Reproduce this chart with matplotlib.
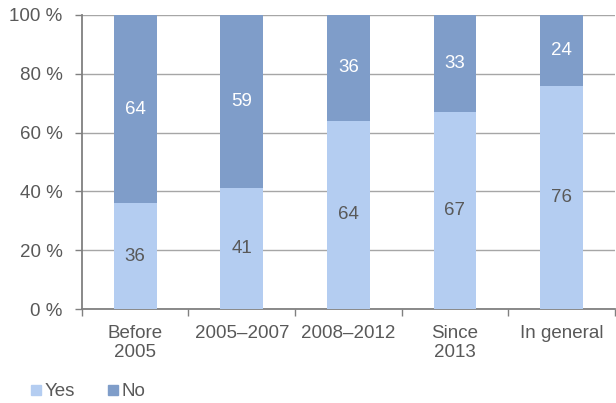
import numpy as np
import matplotlib
matplotlib.use("Agg")
import matplotlib.pyplot as plt
from matplotlib.lines import Line2D
from matplotlib.ticker import MultipleLocator, FixedLocator

plt.rcParams['font.family'] = ['Liberation Sans', 'DejaVu Sans']

# data
categories = ["Before\n2005", "2005\u20132007", "2008\u20132012", "Since\n2013", "In general"]
yes_vals = [36, 41, 64, 67, 76]
no_vals = [64, 59, 36, 33, 24]

YES_COLOR = "#B4CDF1"
NO_COLOR = "#7F9DC9"
TEXT_COLOR = "#595959"
GRID_COLOR = "#A6A6A6"
FS = 13.5

fig = plt.figure(figsize=(6.16, 4.03), dpi=100)
ax = fig.add_axes([0.133, 0.233, 0.865, 0.730])

x = np.arange(len(categories))
w = 0.4
ax.bar(x, yes_vals, w, color=YES_COLOR, label="Yes", zorder=3)
ax.bar(x, no_vals, w, bottom=yes_vals, color=NO_COLOR, label="No", zorder=3)

for i in range(len(categories)):
    ax.text(x[i], yes_vals[i] / 2, str(yes_vals[i]), ha="center", va="center",
            color=TEXT_COLOR, fontsize=FS)
    ax.text(x[i], yes_vals[i] + no_vals[i] / 2, str(no_vals[i]), ha="center", va="center",
            color="white", fontsize=FS)

ax.set_xlim(-0.5, len(categories) - 0.5)
ax.set_ylim(0, 100)
ax.yaxis.set_major_locator(MultipleLocator(20))
ax.set_yticklabels([f"{int(v)} %" for v in ax.get_yticks()])
ax.grid(axis="y", color=GRID_COLOR, linewidth=1.0, zorder=0)

ax.set_xticks(x)
ax.set_xticklabels(categories)
ax.xaxis.set_minor_locator(FixedLocator(np.arange(-0.5, len(categories), 1.0)))
ax.tick_params(axis="x", which="major", length=0, pad=11.5, labelsize=FS, labelcolor=TEXT_COLOR)
ax.tick_params(axis="x", which="minor", length=5, width=1.0, color="#808080")
ax.tick_params(axis="y", length=5, width=1.0, color="#808080", labelsize=FS,
               labelcolor=TEXT_COLOR, pad=9)
for lbl in ax.get_xticklabels():
    lbl.set_linespacing(1.18)

for s in ["top", "right"]:
    ax.spines[s].set_visible(False)
ax.spines["left"].set_color("#808080")
ax.spines["bottom"].set_color("#808080")
ax.spines["left"].set_linewidth(1.3)
ax.spines["bottom"].set_linewidth(1.3)

handles = [Line2D([], [], marker="s", linestyle="none", markersize=7.5, color=YES_COLOR),
           Line2D([], [], marker="s", linestyle="none", markersize=7.5, color=NO_COLOR)]
leg = fig.legend(handles, ["Yes", "No"], loc="center left", bbox_to_anchor=(0.045, 0.028),
                 ncol=2, frameon=False, fontsize=FS, handletextpad=0.0, columnspacing=1.6,
                 handlelength=0.9, borderpad=0, borderaxespad=0)
for t in leg.get_texts():
    t.set_color(TEXT_COLOR)

fig.savefig("out.png", dpi=100)
